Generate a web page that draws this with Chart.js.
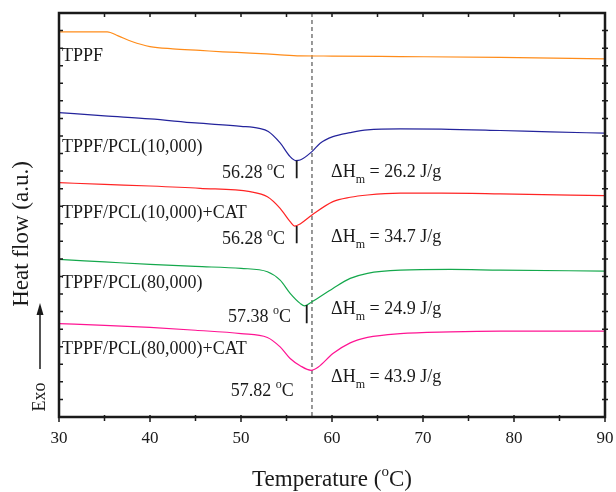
<!DOCTYPE html>
<html>
<head>
<meta charset="utf-8">
<script src="https://cdn.jsdelivr.net/npm/chart.js@4.4.0/dist/chart.umd.min.js"></script>
<style>
  html, body { margin: 0; padding: 0; background: #fff; }
</style>
</head>
<body>
<canvas id="dscChart" width="616" height="492"></canvas>
<script>
// DSC heating curves, offset vertically (heat flow in arbitrary units)
var tempTPPF = [30, 35.3, 36.5, 38, 40, 42.5, 45.5, 48, 51, 54, 56.5, 60, 67.5, 78.5, 90];
var flowTPPF = [21.93, 21.93, 21.70, 21.38, 21.09, 20.96, 20.87, 20.79, 20.72, 20.63, 20.56, 20.55, 20.52, 20.47, 20.39];

var tempPCL10 = [30, 35, 40, 45, 50, 52, 53, 54.3, 55.4, 56.0, 56.5, 57.8, 58.7, 60.1, 62.0, 63.9, 67.5, 72, 78.5, 84, 90];
var flowPCL10 = [17.33, 17.14, 16.97, 16.74, 16.55, 16.43, 16.25, 15.60, 14.82, 14.60, 14.63, 15.11, 15.59, 15.96, 16.19, 16.35, 16.40, 16.39, 16.31, 16.23, 16.16];

var tempPCL10CAT = [30, 35, 40, 45.5, 51, 52.9, 54.3, 55.4, 55.9, 56.5, 57.8, 60.1, 62.0, 63.9, 67.5, 72, 78.5, 90];
var flowPCL10CAT = [13.34, 13.24, 13.15, 13.02, 12.83, 12.54, 11.88, 11.12, 10.87, 10.99, 11.50, 12.26, 12.51, 12.64, 12.74, 12.74, 12.70, 12.60];

var tempPCL80 = [30, 35, 40, 45, 50, 52.9, 54.3, 55.4, 56.5, 57.0, 57.8, 60.1, 62.0, 63.9, 67.5, 73, 78.5, 90];
var flowPCL80 = [8.97, 8.83, 8.69, 8.57, 8.46, 8.27, 7.79, 7.04, 6.47, 6.33, 6.56, 7.32, 7.89, 8.18, 8.36, 8.40, 8.36, 8.31];

var tempPCL80CAT = [30, 35, 40, 45, 50, 52.9, 54.3, 55.4, 56.5, 57.7, 58.5, 60.1, 62.0, 63.9, 67.5, 73, 78.5, 90];
var flowPCL80CAT = [5.32, 5.22, 5.10, 4.94, 4.75, 4.53, 3.99, 3.33, 2.92, 2.66, 2.85, 3.61, 4.22, 4.53, 4.75, 4.85, 4.89, 4.89];

var sampleNames = ['TPPF', 'TPPF/PCL(10,000)', 'TPPF/PCL(10,000)+CAT', 'TPPF/PCL(80,000)', 'TPPF/PCL(80,000)+CAT'];
var peakTemps = ['56.28', '56.28', '57.38', '57.82'];
var enthalpies = ['26.2', '34.7', '24.9', '43.9'];
var dashedTemp = 57.8;

var SERIF = "'Liberation Serif', 'Times New Roman', serif";

function pairs(xs, ys) {
    return xs.map(function(x, i) { return { x: x, y: ys[i] }; });
}

// where the annotations sit, in data units
var nameSpots = [20.24, 15.11, 11.33, 7.32, 3.61];
var peakSpots = [[54.84, 13.61], [54.84, 9.84], [55.5, 5.42], [55.8, 1.18]];
var enthalpySpots = [[59.9, 13.68], [59.9, 9.98], [59.9, 5.86], [59.9, 2.0]];
var peakMarks = [[56.12, 14.60, 13.59], [56.12, 10.87, 9.89], [57.22, 6.37, 5.34]];

// draw a run of text pieces with different sizes / offsets (super- and subscripts)
function drawRich(ctx, parts, x, y, align) {
    var total = 0;
    parts.forEach(function(p) {
        ctx.font = p.s + 'px ' + SERIF;
        p.w = ctx.measureText(p.t).width;
        total += p.w;
    });
    var cx = align === 'right' ? x - total : (align === 'center' ? x - total / 2 : x);
    ctx.textAlign = 'left';
    ctx.textBaseline = 'alphabetic';
    parts.forEach(function(p) {
        ctx.font = p.s + 'px ' + SERIF;
        ctx.fillText(p.t, cx, y + (p.dy || 0));
        cx += p.w;
    });
}

var dscPlugin = {
    id: 'dscDecor',
    beforeDatasetsDraw: function(chart) {
        var ctx = chart.ctx, a = chart.chartArea, xs = chart.scales.x;
        var px = xs.getPixelForValue(dashedTemp);
        ctx.save();
        ctx.strokeStyle = '#555';
        ctx.lineWidth = 1.2;
        ctx.setLineDash([4, 3]);
        ctx.beginPath();
        ctx.moveTo(px, a.top);
        ctx.lineTo(px, a.bottom);
        ctx.stroke();
        ctx.restore();
    },
    afterDraw: function(chart) {
        var ctx = chart.ctx, a = chart.chartArea;
        var xs = chart.scales.x, ys = chart.scales.y;
        ctx.save();
        ctx.strokeStyle = '#1a1a1a';
        ctx.fillStyle = '#1a1a1a';

        // frame
        ctx.lineWidth = 2.5;
        ctx.strokeRect(a.left, a.top, a.right - a.left, a.bottom - a.top);

        // x ticks every 5, y ticks every 1
        ctx.lineWidth = 1.5;
        ctx.beginPath();
        for (var t = xs.min; t <= xs.max; t += 5) {
            var p = xs.getPixelForValue(t);
            var len = (t % 10 === 0) ? 5 : 4;
            ctx.moveTo(p, a.bottom - 2);
            ctx.lineTo(p, a.bottom + len);
            ctx.moveTo(p, a.top);
            ctx.lineTo(p, a.top + 4);
        }
        for (var v = ys.min + 1; v < ys.max; v += 1) {
            var q = ys.getPixelForValue(v);
            ctx.moveTo(a.left, q);
            ctx.lineTo(a.left + 4, q);
            ctx.moveTo(a.right - 3, q);
            ctx.lineTo(a.right + 3, q);
        }
        ctx.stroke();

        // peak markers
        ctx.lineWidth = 1.8;
        ctx.beginPath();
        peakMarks.forEach(function(m) {
            var p = xs.getPixelForValue(m[0]);
            ctx.moveTo(p, ys.getPixelForValue(m[1]));
            ctx.lineTo(p, ys.getPixelForValue(m[2]));
        });
        ctx.stroke();

        // sample names
        sampleNames.forEach(function(n, i) {
            drawRich(ctx, [{ t: n, s: 18 }], xs.getPixelForValue(30.33), ys.getPixelForValue(nameSpots[i]), 'left');
        });
        // peak temperatures
        peakTemps.forEach(function(tp, i) {
            drawRich(ctx, [{ t: tp + ' ', s: 18 }, { t: 'o', s: 12, dy: -8 }, { t: 'C', s: 18 }],
                xs.getPixelForValue(peakSpots[i][0]), ys.getPixelForValue(peakSpots[i][1]), 'right');
        });
        // melting enthalpies
        enthalpies.forEach(function(h, i) {
            drawRich(ctx, [{ t: '\u0394H', s: 18 }, { t: 'm', s: 12, dy: 6 }, { t: ' = ' + h + ' J/g', s: 18 }],
                xs.getPixelForValue(enthalpySpots[i][0]), ys.getPixelForValue(enthalpySpots[i][1]), 'left');
        });

        // axis titles
        drawRich(ctx, [{ t: 'Temperature (', s: 23 }, { t: 'o', s: 15, dy: -10 }, { t: 'C)', s: 23 }],
            (a.left + a.right) / 2, 486, 'center');

        ctx.save();
        ctx.translate(28, 234);
        ctx.rotate(-Math.PI / 2);
        drawRich(ctx, [{ t: 'Heat flow (a.u.)', s: 23 }], 0, 0, 'center');
        ctx.restore();

        ctx.save();
        ctx.translate(45, 397);
        ctx.rotate(-Math.PI / 2);
        drawRich(ctx, [{ t: 'Exo', s: 18 }], 0, 0, 'center');
        ctx.restore();

        // exo arrow
        ctx.lineWidth = 1.5;
        ctx.beginPath();
        ctx.moveTo(40, 369);
        ctx.lineTo(40, 312);
        ctx.stroke();
        ctx.beginPath();
        ctx.moveTo(40, 303);
        ctx.lineTo(36.5, 315);
        ctx.lineTo(43.5, 315);
        ctx.closePath();
        ctx.fill();

        ctx.restore();
    }
};

var lineStyle = {
    borderWidth: 1.2,
    pointRadius: 0,
    fill: false,
    cubicInterpolationMode: 'monotone'
};

var ctxDsc = document.getElementById('dscChart').getContext('2d');
var dscChart = new Chart(ctxDsc, {
    type: 'line',
    data: {
        datasets: [
            Object.assign({ label: sampleNames[0], data: pairs(tempTPPF, flowTPPF), borderColor: '#ff8c1a' }, lineStyle),
            Object.assign({ label: sampleNames[1], data: pairs(tempPCL10, flowPCL10), borderColor: '#24249c' }, lineStyle),
            Object.assign({ label: sampleNames[2], data: pairs(tempPCL10CAT, flowPCL10CAT), borderColor: '#ff2424' }, lineStyle),
            Object.assign({ label: sampleNames[3], data: pairs(tempPCL80, flowPCL80), borderColor: '#14a84c' }, lineStyle),
            Object.assign({ label: sampleNames[4], data: pairs(tempPCL80CAT, flowPCL80CAT), borderColor: '#ff1493' }, lineStyle)
        ]
    },
    options: {
        responsive: false,
        animation: false,
        layout: { padding: { left: 59, right: 11, top: 13, bottom: 0 } },
        plugins: {
            legend: { display: false },
            tooltip: { enabled: false }
        },
        scales: {
            x: {
                type: 'linear',
                min: 30,
                max: 90,
                border: { display: false },
                // invisible tick marks only push the labels down
                grid: { display: true, drawOnChartArea: false, drawTicks: true, tickLength: 11, color: 'rgba(0,0,0,0)' },
                ticks: {
                    stepSize: 10,
                    padding: 0,
                    color: '#1a1a1a',
                    font: { family: SERIF, size: 17 }
                },
                afterFit: function(scale) { scale.height = 75; }
            },
            y: {
                display: false,
                min: 0,
                max: 23
            }
        }
    },
    plugins: [dscPlugin]
});
</script>
</body>
</html>
